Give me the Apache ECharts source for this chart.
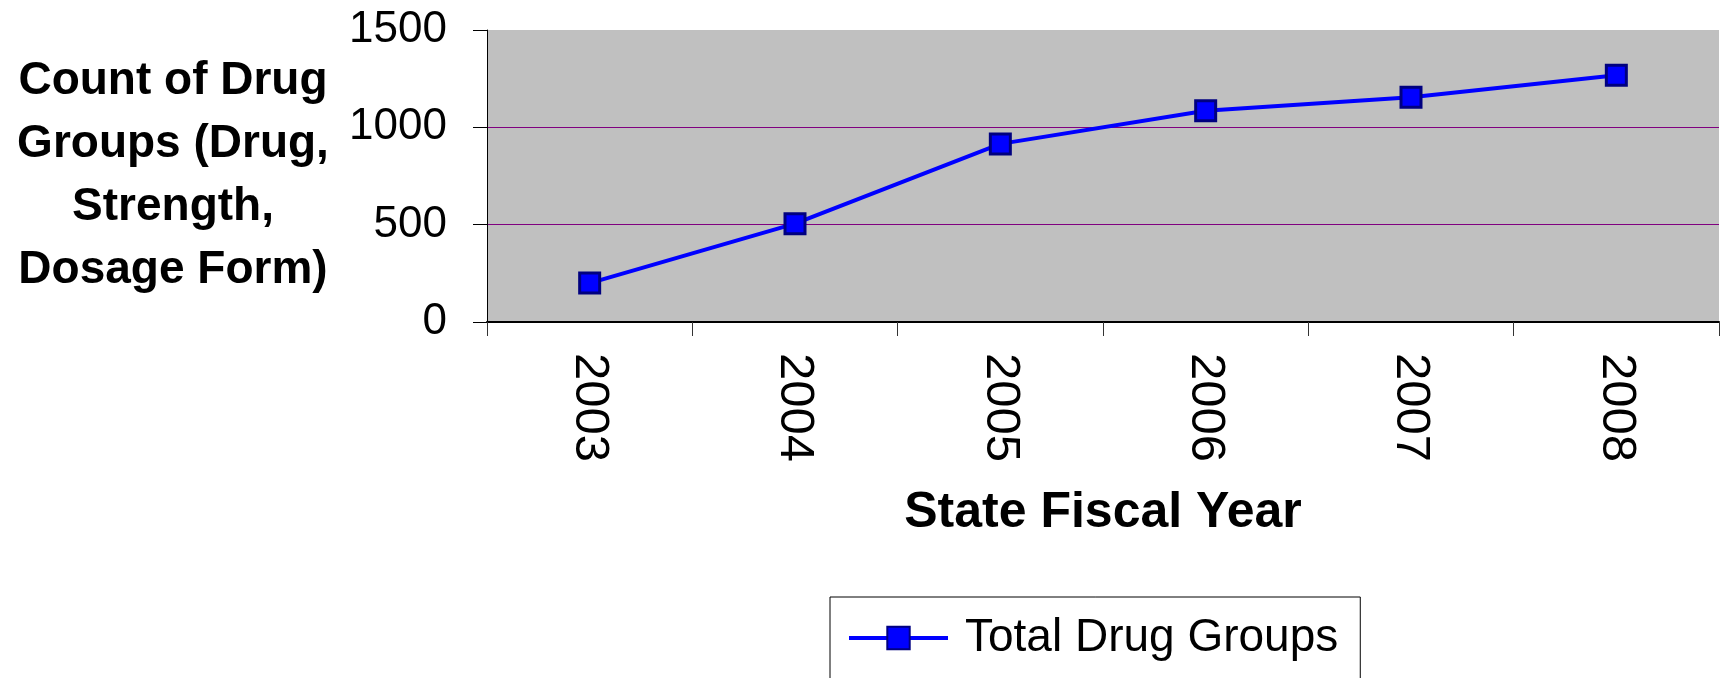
<!DOCTYPE html>
<html>
<head>
<meta charset="utf-8">
<script src="https://cdn.jsdelivr.net/npm/echarts@6/dist/echarts.min.js"></script>
<style>html,body{margin:0;padding:0;background:#fff}#c{width:1724px;height:678px}</style>
</head>
<body>
<div id="c"></div>
<script>
const years = ['2003', '2004', '2005', '2006', '2007', '2008'];
const totalDrugGroups = [200, 505, 915, 1085, 1155, 1268];
const seriesName = 'Total Drug Groups';
const yAxisTitle = 'Count of Drug\nGroups (Drug,\nStrength,\nDosage Form)';
const xAxisTitle = 'State Fiscal Year';
const yMin = 0, yMax = 1500, yStep = 500;

const FONT = '"Liberation Sans", Arial, sans-serif';
const chart = echarts.init(document.getElementById('c'));
chart.setOption({
  animation: false,
  backgroundColor: '#ffffff',
  grid: {
    left: 487, right: 5, top: 30, bottom: 356,
    show: true, backgroundColor: '#C0C0C0', borderWidth: 0,
    containLabel: false
  },
  legend: {
    data: [seriesName],
    left: 830, top: 597,
    itemWidth: 99, itemHeight: 28,
    padding: [18, 22, 18, 17],
    borderColor: '#000', borderWidth: 1, backgroundColor: '#fff',
    lineStyle: { width: 4 },
    textStyle: { fontFamily: FONT, fontSize: 46, color: '#000', padding: [0, 0, 0, 12] }
  },
  xAxis: {
    type: 'category',
    data: years,
    boundaryGap: true,
    name: xAxisTitle,
    nameLocation: 'middle',
    nameGap: 166,
    nameTextStyle: { fontFamily: FONT, fontSize: 50, fontWeight: 'bold', color: '#000' },
    axisLine: { show: true, lineStyle: { color: '#000', width: 2 } },
    axisTick: { show: true, length: 14, alignWithLabel: false, lineStyle: { color: '#333', width: 1 } },
    axisLabel: { rotate: -90, margin: 31, fontFamily: FONT, fontSize: 49, color: '#000' },
    splitLine: { show: false }
  },
  yAxis: {
    type: 'value',
    min: yMin, max: yMax, interval: yStep,
    name: yAxisTitle,
    nameLocation: 'middle',
    nameRotate: 0,
    nameGap: 314,
    nameTextStyle: { fontFamily: FONT, fontSize: 46, fontWeight: 'bold', color: '#000', align: 'center', verticalAlign: 'middle', lineHeight: 63, padding: [0, 0, 15, 0] },
    axisLine: { show: true, lineStyle: { color: '#000', width: 1 } },
    axisTick: { show: true, length: 14, lineStyle: { color: '#000', width: 1 } },
    axisLabel: { margin: 40, fontFamily: FONT, fontSize: 44, color: '#000', formatter: function (v) { return String(v); } },
    splitLine: { show: true, showMinLine: false, showMaxLine: false, lineStyle: { color: '#800080', width: 1 } }
  },
  series: [{
    name: seriesName,
    type: 'line',
    data: totalDrugGroups,
    symbol: 'rect',
    symbolSize: 20,
    lineStyle: { color: '#0000FF', width: 4 },
    itemStyle: { color: '#0000FF', borderColor: '#000080', borderWidth: 3 },
    emphasis: { disabled: true }
  }]
});
</script>
</body>
</html>
